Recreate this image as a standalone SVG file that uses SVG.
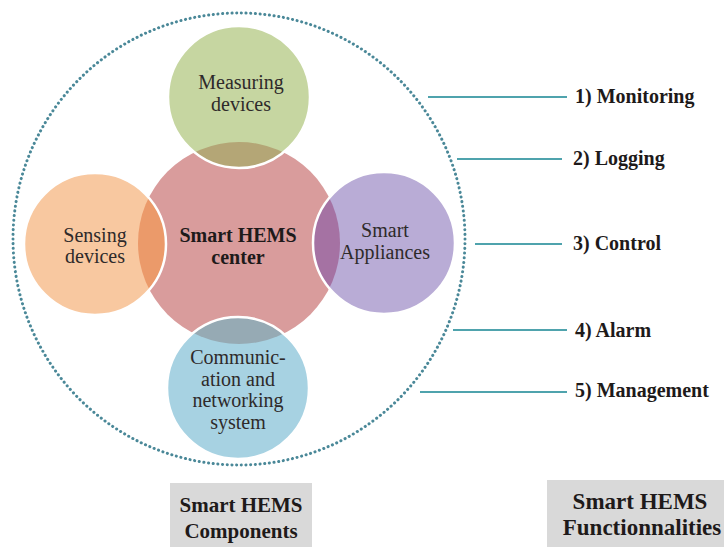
<svg xmlns="http://www.w3.org/2000/svg" width="728" height="547" viewBox="0 0 728 547">
<style>
.t{font-family:"Liberation Serif","Times New Roman",serif;font-size:20px;fill:#2e2a2a;text-anchor:middle}
.b{font-family:"Liberation Serif","Times New Roman",serif;font-weight:bold;fill:#1e1a1a}
.ring{fill:none;stroke:#fff;stroke-width:2.5}
.ln{stroke:#4fa3ad;stroke-width:2}
</style>
<defs>
<clipPath id="pinkClip"><circle cx="239" cy="243" r="101"/></clipPath>
</defs>
<rect width="728" height="547" fill="#fff"/>
<circle cx="239" cy="239" r="226" fill="none" stroke="#4a8898" stroke-width="3" stroke-dasharray="0.1 4.6" stroke-linecap="round"/>
<g id="center">
<circle cx="239" cy="243" r="101" fill="#d99c9c"/>
</g>
<g id="measuring">
<circle cx="239" cy="97" r="71" fill="#c6d6a1"/>
<circle cx="239" cy="97" r="71" fill="#b4a676" clip-path="url(#pinkClip)"/>
<circle cx="239" cy="97" r="71" class="ring"/>
<text class="t" x="241" y="89">Measuring</text>
<text class="t" x="241" y="111">devices</text>
</g>
<g id="sensing">
<circle cx="95" cy="244" r="71" fill="#f8c8a0"/>
<circle cx="95" cy="244" r="71" fill="#eb9a6a" clip-path="url(#pinkClip)"/>
<circle cx="95" cy="244" r="71" class="ring"/>
<text class="t" x="95" y="242">Sensing</text>
<text class="t" x="95" y="263">devices</text>
</g>
<g id="appliances">
<circle cx="384" cy="243" r="71" fill="#b9acd6"/>
<circle cx="384" cy="243" r="71" fill="#a572a3" clip-path="url(#pinkClip)"/>
<circle cx="384" cy="243" r="71" class="ring"/>
<text class="t" x="385" y="237">Smart</text>
<text class="t" x="385" y="259">Appliances</text>
</g>
<g id="communication">
<circle cx="238" cy="388" r="71" fill="#a7d2e2"/>
<circle cx="238" cy="388" r="71" fill="#96aab4" clip-path="url(#pinkClip)"/>
<circle cx="238" cy="388" r="71" class="ring"/>
<text class="t" x="238" y="364">Communic-</text>
<text class="t" x="238" y="386">ation and</text>
<text class="t" x="238" y="407">networking</text>
<text class="t" x="238" y="429">system</text>
</g>
<g id="center-label">
<text class="b" x="238" y="242" font-size="20" text-anchor="middle" fill="#3a1c1c">Smart HEMS</text>
<text class="b" x="238" y="264" font-size="20" text-anchor="middle" fill="#3a1c1c">center</text>
</g>
<g id="connectors">
<line class="ln" x1="428" y1="97" x2="567" y2="97"/>
<line class="ln" x1="457" y1="159" x2="562" y2="159"/>
<line class="ln" x1="475" y1="244" x2="562" y2="244"/>
<line class="ln" x1="453" y1="330" x2="567" y2="330"/>
<line class="ln" x1="420" y1="392" x2="567" y2="392"/>
</g>
<g id="functions">
<text class="b" x="575" y="103" font-size="20">1) Monitoring</text>
<text class="b" x="573" y="165" font-size="20">2) Logging</text>
<text class="b" x="573" y="250" font-size="20">3) Control</text>
<text class="b" x="575" y="337" font-size="20">4) Alarm</text>
<text class="b" x="575" y="397" font-size="20">5) Management</text>
</g>
<g id="components-box">
<rect x="170" y="483" width="142" height="64" fill="#d9d9d9"/>
<text class="b" x="241" y="512" font-size="21" text-anchor="middle">Smart HEMS</text>
<text class="b" x="241" y="538" font-size="21" text-anchor="middle">Components</text>
</g>
<g id="functionalities-box">
<rect x="547" y="480" width="177" height="67" fill="#d9d9d9"/>
<text class="b" x="640" y="509" font-size="23" text-anchor="middle">Smart HEMS</text>
<text class="b" x="642" y="535" font-size="23" text-anchor="middle">Functionnalities</text>
</g>
</svg>
